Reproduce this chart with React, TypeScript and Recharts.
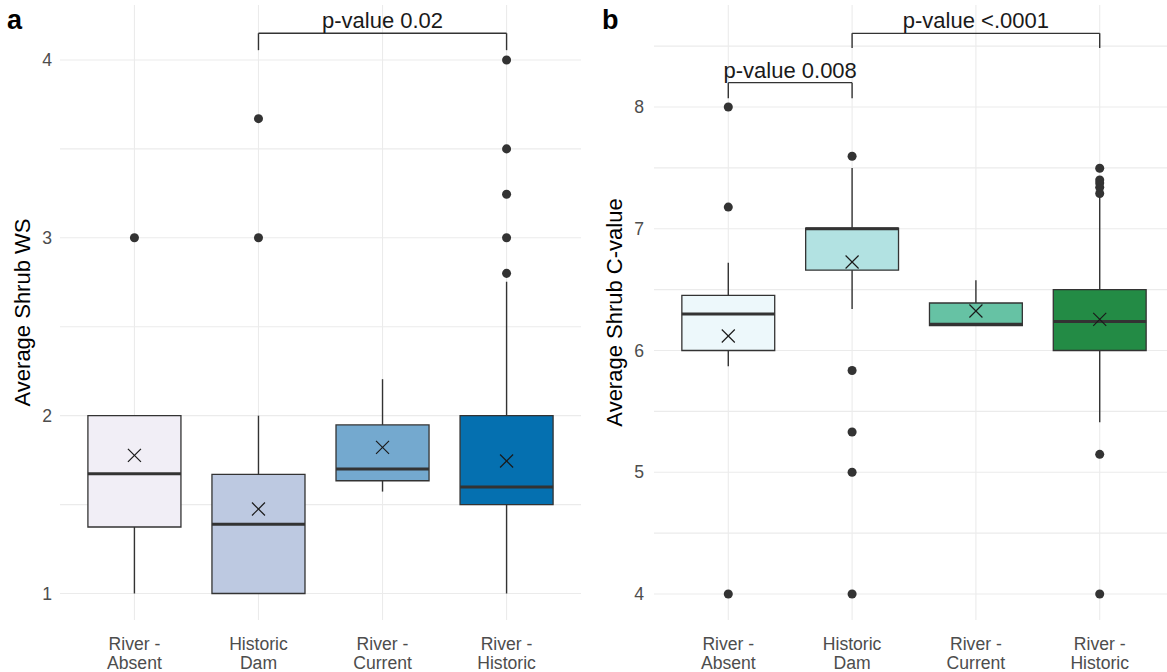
import React from "react";
import {
  ComposedChart,
  XAxis,
  YAxis,
  CartesianGrid,
  Scatter,
  ReferenceArea,
  ReferenceLine,
} from "recharts";

// x categories (two-line tick labels)
const categories = [
  ["River -", "Absent"],
  ["Historic", "Dam"],
  ["River -", "Current"],
  ["River -", "Historic"],
];
const catTicks = [1, 2, 3, 4];

// panel a: Average Shrub WS
const wsLower = [1, 1, 1.573, 1];
const wsQ1 = [1.374, 1, 1.634, 1.5];
const wsMedian = [1.674, 1.389, 1.7, 1.599];
const wsQ3 = [2, 1.67, 1.948, 2];
const wsUpper = [2, 2, 2.205, 2.753];
const wsMean = [1.777, 1.475, 1.822, 1.745];
const wsOutliers = [[3], [3, 3.67], [], [2.8, 3, 3.245, 3.5, 4]];
const wsTicks = [1, 1.5, 2, 2.5, 3, 3.5, 4];
const wsFills = ["#F1EEF6", "#BDC9E1", "#74A9CF", "#0570B0"];
const wsBrackets = [{ from: 2, to: 4, top: 4.15, foot: 4.055, label: "p-value 0.02" }];

// panel b: Average Shrub C-value
const cLower = [5.87, 6.34, 6.205, 5.41];
const cQ1 = [6.0, 6.66, 6.205, 6.0];
const cMedian = [6.3, 7.0, 6.215, 6.238];
const cQ3 = [6.453, 7.005, 6.39, 6.5];
const cUpper = [6.72, 7.5, 6.576, 7.27];
const cMean = [6.119, 6.727, 6.324, 6.256];
const cOutliers = [[4, 7.178, 8], [4, 5, 5.33, 5.836, 7.596], [], [4, 5.147, 7.29, 7.34, 7.375, 7.4, 7.497]];
const cTicks = [4, 4.5, 5, 5.5, 6, 6.5, 7, 7.5, 8, 8.5];
const cFills = ["#EDF8FB", "#B2E2E2", "#66C2A4", "#238B45"];
const cBrackets = [
  { from: 1, to: 2, top: 8.2, foot: 8.071, label: "p-value 0.008" },
  { from: 2, to: 4, top: 8.605, foot: 8.485, label: "p-value <.0001" },
];

const HALF = 0.375;
const INK = "#333333";

function CatTick(props: any) {
  const { x, y, payload } = props;
  const lines = categories[payload.value - 1] || [];
  return (
    <text x={x} y={y} textAnchor="middle" fill="#4D4D4D" fontSize={17.6}>
      {lines.map((l, k) => (
        <tspan key={k} x={x} dy={k === 0 ? 29.5 : 19.5}>
          {l}
        </tspan>
      ))}
    </text>
  );
}

function MeanCross(props: any) {
  const { cx, cy } = props;
  const s = 6.5;
  return (
    <g stroke="#1a1a1a" strokeWidth={1.2}>
      <line x1={cx - s} y1={cy - s} x2={cx + s} y2={cy + s} />
      <line x1={cx - s} y1={cy + s} x2={cx + s} y2={cy - s} />
    </g>
  );
}

interface PanelProps {
  tag: string;
  tagX: number;
  title: string;
  titleDx: number;
  axisWidth: number;
  tickGap: number;
  domain: [number, number];
  ticks: number[];
  lower: number[];
  q1: number[];
  median: number[];
  q3: number[];
  upper: number[];
  mean: number[];
  outliers: number[][];
  fills: string[];
  brackets: { from: number; to: number; top: number; foot: number; label: string }[];
  marginRight: number;
}

function BoxPanel(p: PanelProps) {
  const outlierPts = p.outliers.flatMap((vals, i) => vals.map((v) => ({ x: i + 1, y: v })));
  const meanPts = p.mean.map((v, i) => ({ x: i + 1, y: v }));
  return (
    <ComposedChart width={590} height={672} margin={{ top: 5, right: p.marginRight, bottom: 0, left: 0 }}>
      <CartesianGrid
        stroke="#EBEBEB"
        strokeWidth={1.1}
        horizontalValues={p.ticks}
        verticalValues={catTicks}
      />
      <XAxis
        type="number"
        dataKey="x"
        domain={[0.4, 4.6]}
        ticks={catTicks}
        allowDataOverflow
        axisLine={false}
        tickLine={false}
        tickSize={0}
        tickMargin={0}
        height={52}
        tick={<CatTick />}
      />
      <YAxis
        type="number"
        dataKey="y"
        domain={p.domain}
        ticks={p.ticks}
        allowDataOverflow
        axisLine={false}
        tickLine={false}
        tickSize={0}
        tickMargin={p.tickGap}
        width={p.axisWidth}
        tick={{ fill: "#4D4D4D", fontSize: 17.6 }}
        tickFormatter={(v: number) => (Number.isInteger(v) ? String(v) : "")}
        label={{ value: p.title, angle: -90, position: "center", dx: p.titleDx, fill: "#000", fontSize: 22 }}
      />
      {p.q1.map((_, i) => (
        <ReferenceLine
          key={`wu${i}`}
          segment={[{ x: i + 1, y: p.q3[i] }, { x: i + 1, y: p.upper[i] }]}
          stroke={INK}
          strokeWidth={1.4}
        />
      ))}
      {p.q1.map((_, i) => (
        <ReferenceLine
          key={`wl${i}`}
          segment={[{ x: i + 1, y: p.lower[i] }, { x: i + 1, y: p.q1[i] }]}
          stroke={INK}
          strokeWidth={1.4}
        />
      ))}
      {p.q1.map((_, i) => (
        <ReferenceArea
          key={`box${i}`}
          x1={i + 1 - HALF}
          x2={i + 1 + HALF}
          y1={p.q1[i]}
          y2={p.q3[i]}
          fill={p.fills[i]}
          fillOpacity={1}
          stroke={INK}
          strokeWidth={1.3}
        />
      ))}
      {p.median.map((m, i) => (
        <ReferenceLine
          key={`med${i}`}
          segment={[{ x: i + 1 - HALF, y: m }, { x: i + 1 + HALF, y: m }]}
          stroke={INK}
          strokeWidth={3}
        />
      ))}
      {p.brackets.map((b, k) => (
        <ReferenceLine
          key={`bt${k}`}
          segment={[{ x: b.from, y: b.top }, { x: b.to, y: b.top }]}
          stroke={INK}
          strokeWidth={1.4}
          label={{ value: b.label, position: "top", fill: "#1a1a1a", fontSize: 22, offset: 5 }}
        />
      ))}
      {p.brackets.map((b, k) => (
        <ReferenceLine
          key={`bl${k}`}
          segment={[{ x: b.from, y: b.foot }, { x: b.from, y: b.top }]}
          stroke={INK}
          strokeWidth={1.4}
        />
      ))}
      {p.brackets.map((b, k) => (
        <ReferenceLine
          key={`br${k}`}
          segment={[{ x: b.to, y: b.foot }, { x: b.to, y: b.top }]}
          stroke={INK}
          strokeWidth={1.4}
        />
      ))}
      <Scatter data={outlierPts} fill={INK} shape="circle" isAnimationActive={false} />
      <Scatter data={meanPts} shape={<MeanCross />} isAnimationActive={false} />
      <text x={p.tagX} y={29} fontWeight="bold" fontSize={27} fill="#000">
        {p.tag}
      </text>
    </ComposedChart>
  );
}

export default function App() {
  return (
    <div
      style={{
        position: "absolute",
        left: 0,
        top: 0,
        width: 1167,
        height: 672,
        overflow: "hidden",
        background: "#fff",
        fontFamily: "'Liberation Sans', Arial, sans-serif",
      }}
    >
      <div style={{ position: "absolute", left: 0, top: 0 }}>
        <BoxPanel
          tag="a"
          tagX={7}
          title="Average Shrub WS"
          titleDx={-7.5}
          axisWidth={60}
          tickGap={8}
          domain={[0.851, 4.309]}
          ticks={wsTicks}
          lower={wsLower}
          q1={wsQ1}
          median={wsMedian}
          q3={wsQ3}
          upper={wsUpper}
          mean={wsMean}
          outliers={wsOutliers}
          fills={wsFills}
          brackets={wsBrackets}
          marginRight={9}
        />
      </div>
      <div style={{ position: "absolute", left: 590, top: 0 }}>
        <BoxPanel
          tag="b"
          tagX={12}
          title="Average Shrub C-value"
          titleDx={-8}
          axisWidth={64}
          tickGap={10}
          domain={[3.786, 8.838]}
          ticks={cTicks}
          lower={cLower}
          q1={cQ1}
          median={cMedian}
          q3={cQ3}
          upper={cUpper}
          mean={cMean}
          outliers={cOutliers}
          fills={cFills}
          brackets={cBrackets}
          marginRight={6}
        />
      </div>
    </div>
  );
}
